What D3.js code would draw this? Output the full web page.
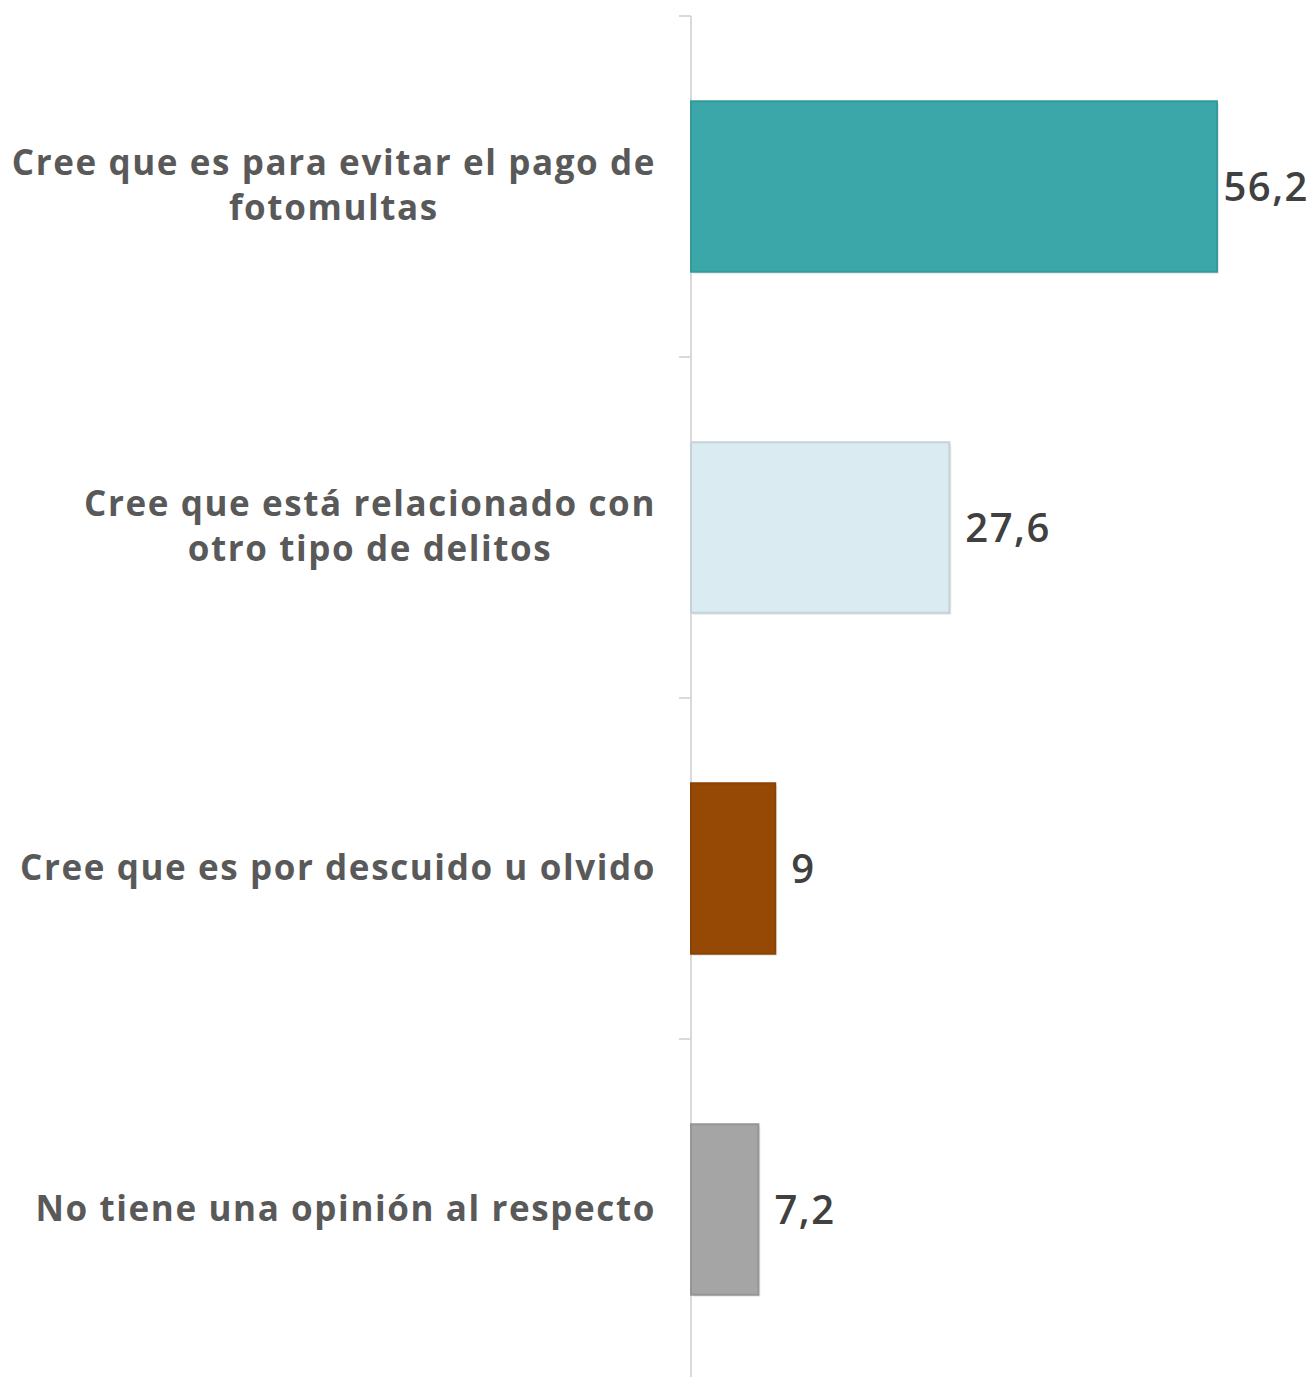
<html>
<head>
<script src="https://d3js.org/d3.v7.min.js"></script>
<style>
  body { margin: 0; background: #fff; }
  .cat { font-family: "Open Sans", sans-serif; font-weight: 700; fill: #595959; letter-spacing: 1.6px; }
  .val { font-family: "Open Sans", sans-serif; font-weight: 600; fill: #404040; letter-spacing: 1.5px; }
</style>
</head>
<body>
<script>
// data
var categories = [
  ["Cree que es para evitar el pago de", "fotomultas"],
  ["Cree que está relacionado con", "otro tipo de delitos"],
  ["Cree que es por descuido u olvido"],
  ["No tiene una opinión al respecto"]
];
var values = [56.2, 27.6, 9, 7.2];
var colors = ["#3ba7a9", "#daebf1", "#964805", "#a5a5a5"];
var borders = ["#369a9c", "#c3d3d9", "#8a4205", "#959595"];

var width = 1313, height = 1377;
var svg = d3.select("body").append("svg")
  .attr("width", width)
  .attr("height", height);

var x = d3.scaleLinear().domain([0, 56.2]).range([691, 1217]);
var y = d3.scaleBand().domain(d3.range(values.length)).range([16, 1380]).paddingInner(0.5).paddingOuter(0.25);

// axis line + ticks between categories
var axisG = svg.append("g");
axisG.append("line")
  .attr("x1", 691).attr("x2", 691)
  .attr("y1", 16).attr("y2", height)
  .attr("stroke", "#d9d9d9").attr("stroke-width", 2);

var step = y.step();
var tickYs = d3.range(values.length).map(function (i) { return y(i) - y.paddingOuter() * step; });
axisG.selectAll(".tk").data(tickYs).enter().append("line")
  .attr("x1", 679).attr("x2", 691)
  .attr("y1", function (d) { return d; }).attr("y2", function (d) { return d; })
  .attr("stroke", "#d9d9d9").attr("stroke-width", 2);

// shadows
svg.selectAll(".shadow").data(values).enter().append("rect")
  .attr("x", x(0) + 2)
  .attr("y", function (d, i) { return y(i) + 2; })
  .attr("width", function (d) { return x(d) - x(0); })
  .attr("height", y.bandwidth())
  .attr("fill", "#e8e8e8");

// bars
svg.selectAll(".bar").data(values).enter().append("rect")
  .attr("x", x(0))
  .attr("y", function (d, i) { return y(i); })
  .attr("width", function (d) { return x(d) - x(0); })
  .attr("height", y.bandwidth())
  .attr("fill", function (d, i) { return colors[i]; })
  .attr("stroke", function (d, i) { return borders[i]; })
  .attr("stroke-width", 2);

// value labels
svg.selectAll(".val").data(values).enter().append("text")
  .attr("class", "val")
  .attr("font-size", 40)
  .attr("y", function (d, i) { return y(i) + y.bandwidth() / 2; })
  .attr("dy", "0.35em")
  .text(function (d) { return String(d).replace(".", ","); })
  .attr("x", function (d) {
    var w = this.getComputedTextLength();
    return Math.min(x(d) + 16, width - 4 - w);
  });

// category labels
var cat = svg.selectAll(".cat").data(categories).enter().append("text")
  .attr("class", "cat")
  .attr("font-size", 35)
  .attr("text-anchor", "middle")
  .attr("y", function (d, i) { return y(i) + y.bandwidth() / 2; });

cat.each(function (lines) {
  var t = d3.select(this);
  var lh = 45;
  var y0 = -(lines.length - 1) * lh / 2;
  lines.forEach(function (l, j) {
    t.append("tspan").attr("dy", j === 0 ? (y0 + 11) : lh).text(l);
  });
});
// right-align the block (widest line ends at 655), center lines within it
cat.each(function () {
  var t = d3.select(this);
  var maxW = 0;
  t.selectAll("tspan").each(function () { maxW = Math.max(maxW, this.getComputedTextLength()); });
  var cx = 656 - maxW / 2;
  t.selectAll("tspan").attr("x", cx);
});
</script>
</body>
</html>
